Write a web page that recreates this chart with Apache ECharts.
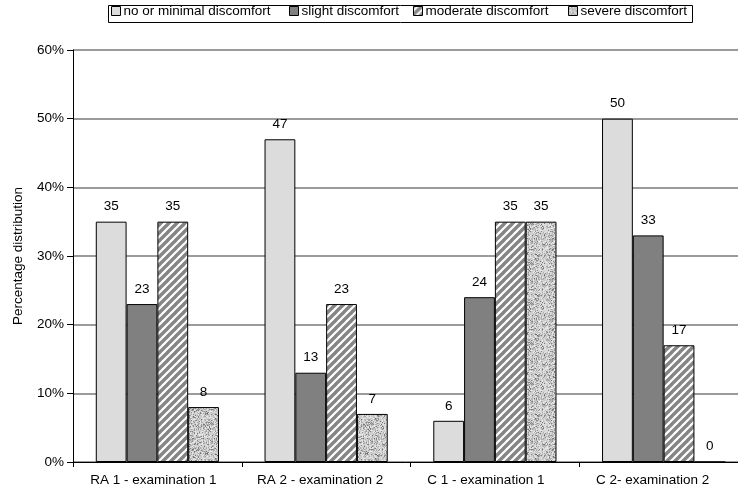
<!DOCTYPE html>
<html>
<head>
<meta charset="utf-8">
<script src="https://cdn.jsdelivr.net/npm/echarts@6/dist/echarts.min.js"></script>
<style>
html,body{margin:0;padding:0;background:#fff;}
#c{width:738px;height:497px;}
</style>
</head>
<body>
<div id="c"></div>
<script>
var categories = ['RA 1 - examination 1', 'RA 2 - examination 2', 'C 1 - examination 1', 'C 2- examination 2'];
var seriesNames = ['no or minimal discomfort', 'slight discomfort', 'moderate discomfort', 'severe discomfort'];
var noneVals = [35, 47, 6, 50];
var slightVals = [23, 13, 24, 33];
var moderateVals = [35, 23, 35, 17];
var severeVals = [8, 7, 35, 0];
var yTicks = [0, 10, 20, 30, 40, 50, 60];

function stripes() {
  var s = 8;
  var cv = document.createElement('canvas');
  cv.width = s; cv.height = s;
  var ctx = cv.getContext('2d');
  ctx.fillStyle = '#ffffff';
  ctx.fillRect(0, 0, s, s);
  ctx.strokeStyle = '#858585';
  ctx.lineWidth = 3.4;
  for (var k = -2; k <= 2; k++) {
    ctx.beginPath();
    ctx.moveTo(k * s - 1, s + 1);
    ctx.lineTo(k * s + s + 1, -1);
    ctx.stroke();
  }
  return { image: cv, repeat: 'repeat' };
}
function speckle() {
  var s = 40;
  var cv = document.createElement('canvas');
  cv.width = s; cv.height = s;
  var ctx = cv.getContext('2d');
  var img = ctx.createImageData(s, s);
  var seed = 12345;
  function rnd() { seed = (seed * 1103515245 + 12345) & 0x7fffffff; return seed / 0x7fffffff; }
  for (var i = 0; i < s * s; i++) {
    var r = rnd();
    var v;
    if (r < 0.12) v = 110 + rnd() * 40;
    else if (r < 0.35) v = 160 + rnd() * 25;
    else v = 195 + rnd() * 40;
    img.data[i * 4] = v; img.data[i * 4 + 1] = v; img.data[i * 4 + 2] = v; img.data[i * 4 + 3] = 255;
  }
  ctx.putImageData(img, 0, 0);
  return { image: cv, repeat: 'repeat' };
}

var fills = ['#dcdcdc', '#808080', stripes(), speckle()];
var valueSets = [noneVals, slightVals, moderateVals, severeVals];
var legendLefts = [111, 289, 413, 568];

var chart = echarts.init(document.getElementById('c'), null, { renderer: 'canvas' });
var font = 'Liberation Sans, Arial, sans-serif';
var fs = 13.5;
var series = seriesNames.map(function (n, i) {
  return {
    name: n,
    type: 'bar',
    data: valueSets[i],
    barGap: '0%',
    barCategoryGap: '27%',
    itemStyle: { color: fills[i], borderColor: '#000', borderWidth: 1 },
    label: { show: true, position: 'top', distance: 8, color: '#000', fontSize: fs, fontFamily: font },
    emphasis: { disabled: true },
    animation: false
  };
});

var legends = seriesNames.map(function (n, i) {
  return {
    left: legendLefts[i], top: 4,
    padding: 0,
    itemWidth: 9, itemHeight: 9, itemGap: 0,
    textStyle: { fontSize: fs, color: '#000', fontFamily: font, padding: [0, 0, 0, -2] },
    icon: 'rect',
    itemStyle: { borderColor: '#000', borderWidth: 1 },
    selectedMode: false,
    data: [n]
  };
});

var labelRich = {};
[8, 12, 18, 22].forEach(function (p, i) {
  labelRich['c' + i] = { fontSize: fs, color: '#000', fontFamily: font, padding: [0, p, 0, 0] };
});

chart.setOption({
  animation: false,
  textStyle: { fontFamily: font },
  legend: legends,
  graphic: [{
    type: 'rect', left: 106, top: 3, z: 100,
    shape: { width: 584, height: 17 },
    style: { fill: 'none', stroke: '#000', lineWidth: 1 }
  }],
  grid: { left: 73, width: 675, top: 50, height: 412, containLabel: false, outerBoundsMode: 'none' },
  xAxis: {
    type: 'category',
    data: categories,
    axisLine: { lineStyle: { color: '#000', width: 1 } },
    axisTick: { show: true, interval: 0, length: 5, lineStyle: { color: '#000' } },
    axisLabel: { color: '#000', fontSize: fs, fontFamily: font, margin: 11, interval: 0, hideOverlap: false,
      formatter: function (v, idx) { return '{c' + idx + '|' + v + '}'; },
      rich: labelRich }
  },
  yAxis: {
    type: 'value',
    min: 0, max: 60, interval: 10,
    name: 'Percentage distribution',
    nameLocation: 'middle',
    nameGap: 48,
    nameTextStyle: { fontSize: fs, color: '#000', fontFamily: font },
    axisLine: { show: true, lineStyle: { color: '#000', width: 1 } },
    axisTick: { show: true, length: 6, inside: false, lineStyle: { color: '#000' } },
    axisLabel: { color: '#000', fontSize: fs, fontFamily: font, margin: 9,
      formatter: function (v) { return yTicks.indexOf(v) >= 0 ? v + '%' : ''; } },
    splitLine: { show: true, lineStyle: { color: '#7a7a7a', width: 1.5 } }
  },
  series: series
});
</script>
</body>
</html>
